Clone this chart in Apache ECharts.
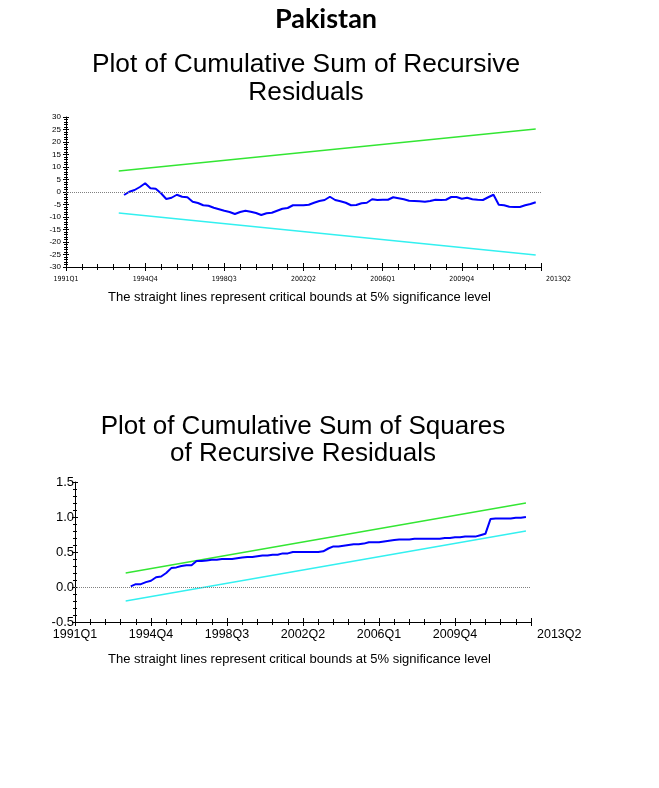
<!DOCTYPE html>
<html>
<head>
<meta charset="utf-8">
<script src="https://cdn.jsdelivr.net/npm/echarts@6/dist/echarts.min.js"></script>
<style>
html,body{margin:0;padding:0;background:#fff;}
#chart{width:659px;height:788px;}
</style>
</head>
<body>
<div id="chart"></div>
<script>
// ---- Data ----
const countryTitle = 'Pakistan';
const cusumTitle = 'Plot of Cumulative Sum of Recursive\nResiduals';
const cusumsqTitle = 'Plot of Cumulative Sum of Squares\nof Recursive Residuals';
const caption = 'The straight lines represent critical bounds at 5% significance level';

const firstPeriod = '1991Q1';
const tickLabels = ['1991Q1', '1994Q4', '1998Q3', '2002Q2', '2006Q1', '2009Q4', '2013Q2'];

const seriesStart = '1993Q4';
const boundPeriods = ['1993Q3', '2013Q2'];

const cusumValues = [
  -1.2, 0.1, 0.8, 2.0, 3.5, 1.5, 1.3, -0.5, -2.8, -2.3,
  -1.1, -1.9, -2.1, -3.9, -4.4, -5.3, -5.5, -6.3, -6.9, -7.5,
  -8.0, -8.8, -8.0, -7.5, -7.9, -8.4, -9.2, -8.5, -8.3, -7.5,
  -6.7, -6.4, -5.3, -5.3, -5.3, -5.1, -4.3, -3.6, -3.2, -1.9,
  -3.2, -3.7, -4.3, -5.3, -5.2, -4.5, -4.3, -2.9, -3.2, -3.1,
  -3.1, -2.1, -2.5, -2.9, -3.5, -3.6, -3.7, -3.9, -3.6, -3.1,
  -3.2, -3.1, -2.0, -2.0, -2.7, -2.3, -2.9, -3.1, -3.2, -2.1,
  -1.1, -5.1, -5.3, -5.9, -6.0, -6.0, -5.3, -4.8, -4.1
];
const cusumUpper = [8.4, 25.2];
const cusumLower = [-8.4, -25.2];

const cusumsqValues = [
  0.01, 0.04, 0.04, 0.07, 0.09, 0.14, 0.15, 0.20, 0.27, 0.28,
  0.30, 0.31, 0.31, 0.37, 0.37, 0.38, 0.39, 0.39, 0.40, 0.40,
  0.40, 0.41, 0.42, 0.43, 0.43, 0.44, 0.45, 0.45, 0.46, 0.46,
  0.48, 0.48, 0.50, 0.50, 0.50, 0.50, 0.50, 0.50, 0.51, 0.55,
  0.58, 0.58, 0.59, 0.60, 0.61, 0.61, 0.62, 0.64, 0.64, 0.64,
  0.65, 0.66, 0.67, 0.68, 0.68, 0.68, 0.69, 0.69, 0.69, 0.69,
  0.69, 0.69, 0.70, 0.70, 0.71, 0.71, 0.72, 0.72, 0.72, 0.74,
  0.76, 0.97, 0.98, 0.98, 0.98, 0.98, 0.99, 0.99, 1.00
];
const cusumsqUpper = [0.2, 1.2];
const cusumsqLower = [-0.2, 0.8];

// ---- Helpers ----
function qIndex(q) {
  const y = +q.slice(0, 4), n = +q.slice(5);
  const y0 = +firstPeriod.slice(0, 4), n0 = +firstPeriod.slice(5);
  return (y - y0) * 4 + (n - n0);
}
const xMax = (tickLabels.length - 1) * 15;
const s0 = qIndex(seriesStart);
const toPts = vals => vals.map((v, i) => [s0 + i, v]);
const boundPts = vals => vals.map((v, i) => [qIndex(boundPeriods[i]), v]);

const ARIAL = '"Liberation Sans", Arial, sans-serif';
const NARROW = '"Liberation Sans Narrow", "DejaVu Sans Condensed", "Liberation Sans", Arial, sans-serif';

function xAxes(gridIndex, fontSize, fontFamily, labelMargin, lastPad) {
  const base = {
    type: 'value', gridIndex, position: 'bottom', min: 0, max: xMax, interval: 15,
    splitLine: { show: false },
    axisLine: { onZero: false, lineStyle: { color: '#000', width: 1 } }
  };
  return [
    Object.assign({}, base, {
      axisTick: { show: true, inside: false, length: 4, lineStyle: { color: '#000' } },
      minorTick: { show: true, splitNumber: 5, length: 3, lineStyle: { color: '#000' } },
      axisLabel: {
        show: true, color: '#000', fontSize, fontFamily, margin: labelMargin,
        alignMaxLabel: 'left',
        formatter: v => {
          const i = Math.round(v / 15);
          return i === tickLabels.length - 1 ? '{last|' + tickLabels[i] + '}' : tickLabels[i];
        },
        rich: { last: { fontSize, fontFamily, color: '#000', padding: [0, 0, 0, lastPad] } }
      }
    }),
    Object.assign({}, base, {
      axisLine: { show: false, onZero: false },
      axisTick: { show: true, inside: true, length: 4, lineStyle: { color: '#000' } },
      minorTick: { show: true, splitNumber: 5, length: 3, lineStyle: { color: '#000' } },
      axisLabel: { show: false }
    })
  ];
}
function yAxes(gridIndex, min, max, interval, fontSize, fmt, margin) {
  const base = {
    type: 'value', gridIndex, position: 'left', min, max, interval,
    splitLine: { show: false },
    axisLine: { onZero: false, lineStyle: { color: '#000', width: 1 } }
  };
  return [
    Object.assign({}, base, {
      axisTick: { show: true, inside: false, length: 3, lineStyle: { color: '#000' } },
      minorTick: { show: true, splitNumber: 5, length: 2, lineStyle: { color: '#000' } },
      axisLabel: { show: true, color: '#000', fontSize, fontFamily: ARIAL, margin, formatter: fmt }
    }),
    Object.assign({}, base, {
      axisLine: { show: false, onZero: false },
      axisTick: { show: true, inside: true, length: 3, lineStyle: { color: '#000' } },
      minorTick: { show: true, splitNumber: 5, length: 2, lineStyle: { color: '#000' } },
      axisLabel: { show: false }
    })
  ];
}

const zeroLine = {
  silent: true, symbol: 'none',
  label: { show: false },
  lineStyle: { color: '#808080', type: [1, 1], width: 1 },
  data: [{ yAxis: 0 }]
};

function lineSeries(xi, data, color, width, extra) {
  return Object.assign({
    type: 'line', xAxisIndex: xi, yAxisIndex: xi, data,
    showSymbol: false, symbol: 'none', animation: false, silent: true,
    lineStyle: { color, width }, itemStyle: { color }
  }, extra || {});
}

const chart = echarts.init(document.getElementById('chart'), null, { renderer: 'canvas' });
chart.setOption({
  backgroundColor: '#fff',
  animation: false,
  title: [
    { text: countryTitle, left: 321, top: 1, textAlign: 'center',
      textStyle: { fontFamily: 'Lato, "Open Sans", sans-serif', fontWeight: 'bold', fontSize: 27, color: '#000' } },
    { text: cusumTitle, left: 301, top: 46, textAlign: 'center',
      textStyle: { fontFamily: ARIAL, fontWeight: 'normal', fontSize: 26.3, lineHeight: 28, color: '#000' } },
    { text: caption, left: 294.5, top: 286, textAlign: 'center',
      textStyle: { fontFamily: ARIAL, fontWeight: 'normal', fontSize: 13, color: '#000' } },
    { text: cusumsqTitle, left: 298, top: 408, textAlign: 'center',
      textStyle: { fontFamily: ARIAL, fontWeight: 'normal', fontSize: 26, lineHeight: 27, color: '#000' } },
    { text: caption, left: 294.5, top: 648, textAlign: 'center',
      textStyle: { fontFamily: ARIAL, fontWeight: 'normal', fontSize: 13, color: '#000' } }
  ],
  grid: [
    { left: 66, top: 117, width: 475, height: 150 },
    { left: 75, top: 482, width: 456, height: 140 }
  ],
  xAxis: [].concat(
    xAxes(0, 7, NARROW, 9, 5),
    xAxes(1, 12.5, ARIAL, 6, 6)
  ),
  yAxis: [].concat(
    yAxes(0, -30, 30, 5, 8, v => String(v), 5),
    yAxes(1, -0.5, 1.5, 0.5, 13, v => v.toFixed(1), 1)
  ),
  series: [
    lineSeries(0, boundPts(cusumUpper), '#33e633', 1.3),
    lineSeries(0, boundPts(cusumLower), '#33f0f0', 1.3),
    lineSeries(0, toPts(cusumValues), '#0000ff', 2, { markLine: zeroLine, z: 3 }),
    Object.assign(lineSeries(2, boundPts(cusumsqUpper), '#33e633', 1.3), { yAxisIndex: 2 }),
    Object.assign(lineSeries(2, boundPts(cusumsqLower), '#33f0f0', 1.3), { yAxisIndex: 2 }),
    Object.assign(lineSeries(2, toPts(cusumsqValues), '#0000ff', 2, { markLine: zeroLine, z: 3 }), { yAxisIndex: 2 })
  ]
});
</script>
</body>
</html>
